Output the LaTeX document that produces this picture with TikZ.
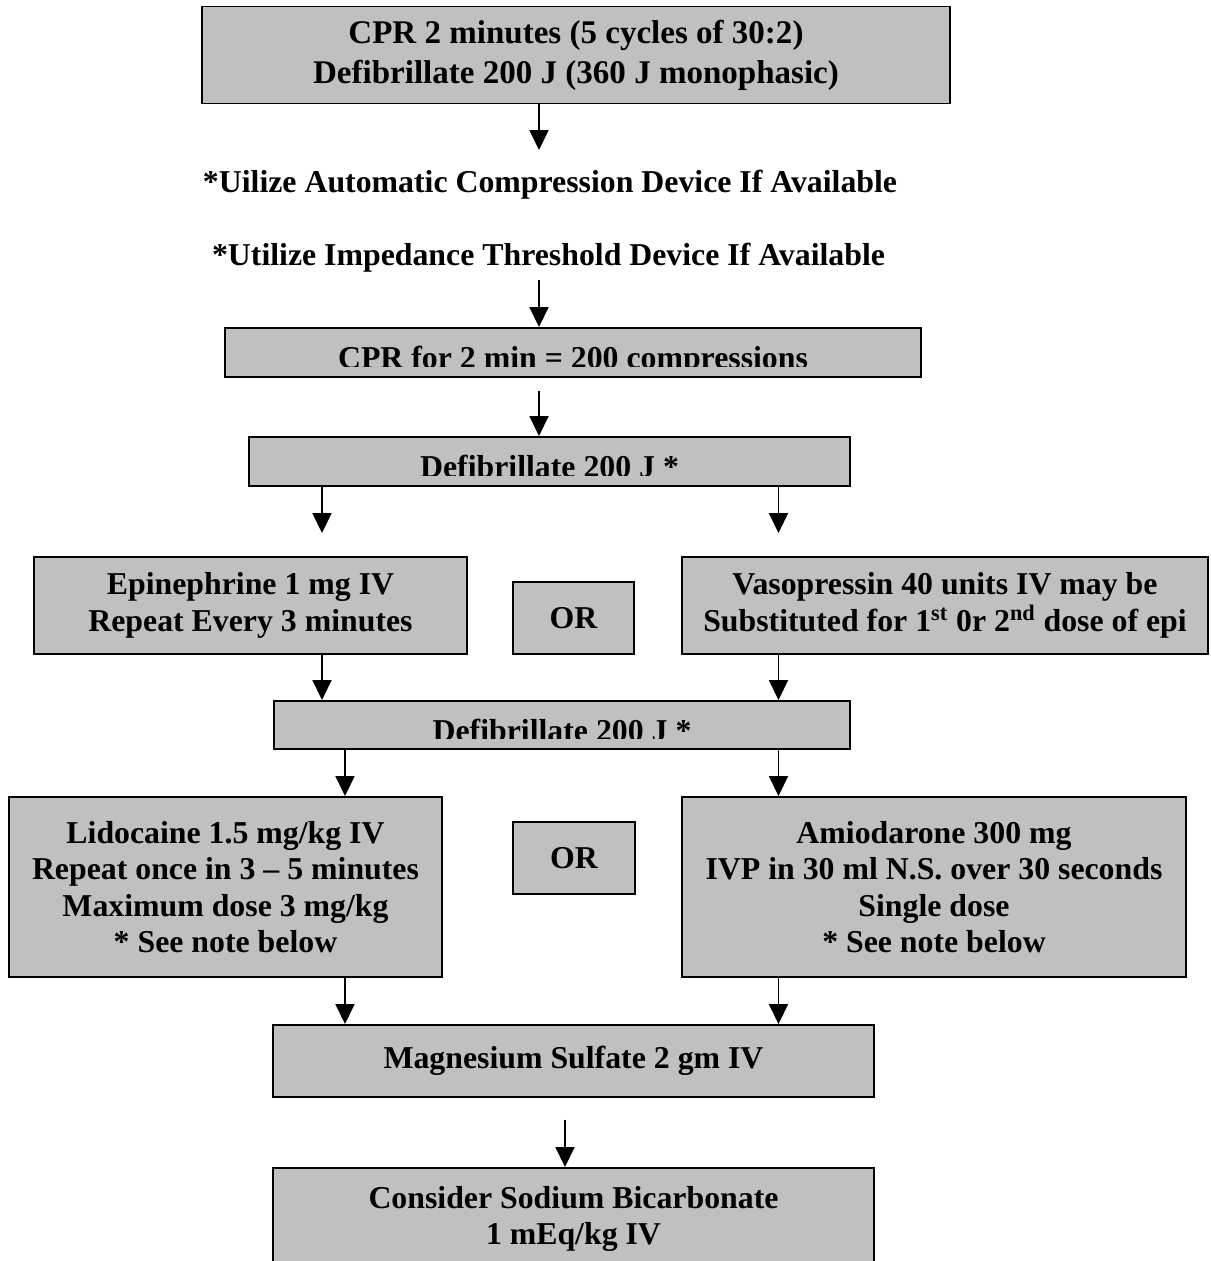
\documentclass[tikz,border=0pt]{standalone}
\usepackage{fontspec}
\setmainfont{Liberation Serif}
\usepackage{xcolor}
\usepackage{tikz}
\usetikzlibrary{arrows.meta}

\definecolor{boxgray}{HTML}{C0C0C0}
\newcommand{\flowfont}{\fontsize{18.1}{20.8}\selectfont\bfseries}
\newcommand{\headfont}{\fontsize{18.8}{22.8}\selectfont\bfseries}

\begin{document}
\begin{tikzpicture}[
    box/.style={rectangle, draw, fill=boxgray, line width=1.1pt, inner sep=0pt, align=center, font=\flowfont},
    note/.style={inner sep=0pt, font=\flowfont},
    arrow/.style={-{Triangle[length=0.4cm, width=0.38cm]}, line width=1pt}
]
    \useasboundingbox (0,0) rectangle (24.22,-25.22);

    % CPR and first shock
    \node[box, font=\headfont, minimum width=14.96cm, minimum height=1.94cm] (start) at (11.52,-1.1) {CPR 2 minutes (5 cycles of 30:2)\\ Defibrillate 200 J (360 J monophasic)};

    % Device notes
    \node[note, anchor=base] (acd) at (11.0,-3.84) {*Uilize Automatic Compression Device If Available};
    \node[note, anchor=base] (itd) at (10.97,-5.30) {*Utilize Impedance Threshold Device If Available};

    % CPR 2 min (text cut by the box)
    \node[box, minimum width=13.92cm, minimum height=0.98cm] (cpr) at (11.46,-7.05) {};
    \begin{scope}
        \clip (cpr.north west) rectangle ([yshift=0.22cm]cpr.south east);
        \node[note, anchor=base] (cprtext) at ([yshift=-0.82cm]cpr.north) {CPR for 2 min = 200 compressions};
    \end{scope}

    % First defibrillation
    \node[box, minimum width=12.02cm, minimum height=0.98cm] (defib1) at (10.99,-9.23) {};
    \begin{scope}
        \clip (defib1.north west) rectangle ([yshift=0.22cm]defib1.south east);
        \node[note, anchor=base] (defib1text) at ([yshift=-0.82cm]defib1.north) {Defibrillate 200 J *};
    \end{scope}

    % Vasopressor
    \node[box, minimum width=8.66cm, minimum height=1.94cm] (epi) at (5.01,-12.11) {Epinephrine 1 mg IV\\ Repeat Every 3 minutes};
    \node[box, minimum width=2.42cm, minimum height=1.44cm] (or1) at (11.47,-12.36) {OR};
    \node[box, minimum width=10.52cm, minimum height=1.94cm] (vaso) at (18.9,-12.11) {Vasopressin 40 units IV may be\\ Substituted for 1\textsuperscript{st} 0r 2\textsuperscript{nd} dose of epi};

    % Second defibrillation
    \node[box, minimum width=11.52cm, minimum height=0.96cm] (defib2) at (11.24,-14.5) {};
    \begin{scope}
        \clip (defib2.north west) rectangle ([yshift=0.22cm]defib2.south east);
        \node[note, anchor=base] (defib2text) at ([yshift=-0.82cm]defib2.north) {Defibrillate 200 J *};
    \end{scope}

    % Antiarrhythmic
    \node[box, minimum width=8.66cm, minimum height=3.6cm] (lido) at (4.51,-17.74) {Lidocaine 1.5 mg/kg IV\\ Repeat once in 3 -- 5 minutes\\ Maximum dose 3 mg/kg\\ * See note below};
    \node[box, minimum width=2.44cm, minimum height=1.44cm] (or2) at (11.48,-17.16) {OR};
    \node[box, minimum width=10.08cm, minimum height=3.6cm] (amio) at (18.68,-17.74) {Amiodarone 300 mg\\ IVP in 30 ml N.S. over 30 seconds\\ Single dose\\ * See note below};

    % Magnesium and bicarbonate
    \node[box, minimum width=12.02cm, minimum height=1.44cm] (mag) at (11.47,-21.22) {Magnesium Sulfate 2 gm IV};
    \node[box, minimum width=12.02cm, minimum height=2.04cm] (bicarb) at (11.47,-24.38) {Consider Sodium Bicarbonate\\ 1 mEq/kg IV};

    % Arrow columns
    \coordinate (acdtip) at (10.78,-3.0);
    \coordinate (itdtail) at (10.78,-5.6);
    \coordinate (colA) at (6.44,0);
    \coordinate (colB) at (6.90,0);
    \coordinate (colR) at (15.57,0);
    \coordinate (colM) at (11.30,0);

    % Arrows
    \draw[arrow] (start.south -| acdtip) -- (acdtip);
    \draw[arrow] (itdtail) -- (cpr.north -| itdtail);
    \draw[arrow, shorten <=0.26cm] (cpr.south -| acdtip) -- (defib1.north -| acdtip);
    \draw[arrow, shorten >=0.46cm] (defib1.south -| colA) -- (epi.north -| colA);
    \draw[arrow, shorten >=0.46cm] (defib1.south -| colR) -- (vaso.north -| colR);
    \draw[arrow] (epi.south -| colA) -- (defib2.north -| colA);
    \draw[arrow] (vaso.south -| colR) -- (defib2.north -| colR);
    \draw[arrow] (defib2.south -| colB) -- (lido.north -| colB);
    \draw[arrow] (defib2.south -| colR) -- (amio.north -| colR);
    \draw[arrow] (lido.south -| colB) -- (mag.north -| colB);
    \draw[arrow] (amio.south -| colR) -- (mag.north -| colR);
    \draw[arrow, shorten <=0.44cm] (mag.south -| colM) -- (bicarb.north -| colM);
\end{tikzpicture}
\end{document}
